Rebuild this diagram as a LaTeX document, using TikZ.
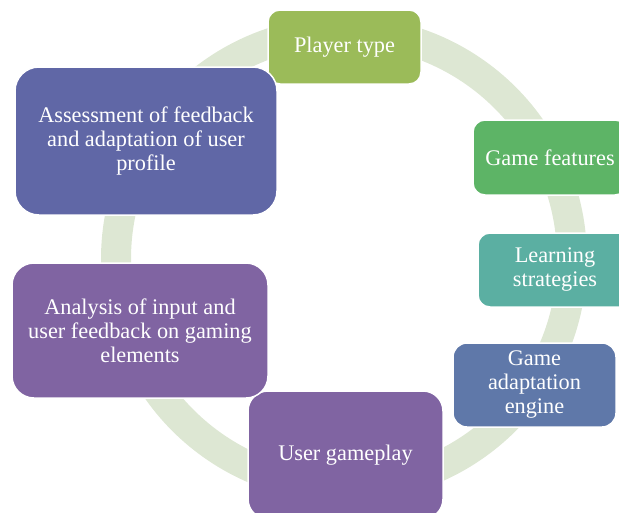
\documentclass[tikz,border=0pt]{standalone}
\usepackage{fontspec}
\setmainfont{Liberation Serif}

\definecolor{ringgreen}{HTML}{DDE7D3}
\definecolor{playergreen}{HTML}{9BBB59}
\definecolor{featuregreen}{HTML}{5DB466}
\definecolor{learnteal}{HTML}{5BAFA2}
\definecolor{engineblue}{HTML}{5F78A9}
\definecolor{gamepurple}{HTML}{8064A2}
\definecolor{assessblue}{HTML}{6067A6}

\begin{document}
\begin{tikzpicture}[x=1pt, y=-1pt,
        stage/.style={rectangle, draw=white, line width=1.5pt, text=white,
            align=center, inner sep=0pt, font=\fontsize{22.3}{24}\selectfont}]
        \useasboundingbox (0,0) rectangle (619,512);

        % cycle ring behind the stages
        \draw[ringgreen, line width=30pt] (344,259) circle [radius=228pt];

        \node[stage, fill=playergreen, minimum width=153pt, minimum height=74pt, rounded corners=12pt] (player) at (344.5,47) {Player type};
        \node[stage, fill=featuregreen, minimum width=154pt, minimum height=75pt, rounded corners=12pt] (features) at (550,157.5) {Game features};
        \node[stage, fill=learnteal, minimum width=154pt, minimum height=74pt, rounded corners=12pt] (learning) at (555,270) {Learning\\strategies};
        \node[stage, fill=engineblue, minimum width=163pt, minimum height=84pt, rounded corners=14pt] (engine) at (534.5,385) {Game\\adaptation\\engine};
        \node[stage, fill=gamepurple, minimum width=195pt, minimum height=128pt, rounded corners=20pt] (gameplay) at (345.5,455) {User gameplay};
        \node[stage, fill=gamepurple, minimum width=256pt, minimum height=135pt, rounded corners=22pt] (analysis) at (140,330.5) {Analysis of input and\\user feedback on gaming\\elements};
        \node[stage, fill=assessblue, minimum width=262pt, minimum height=148pt, rounded corners=24pt] (assessment) at (146,141) {Assessment of feedback\\and adaptation of user\\profile};

\end{tikzpicture}
\end{document}
